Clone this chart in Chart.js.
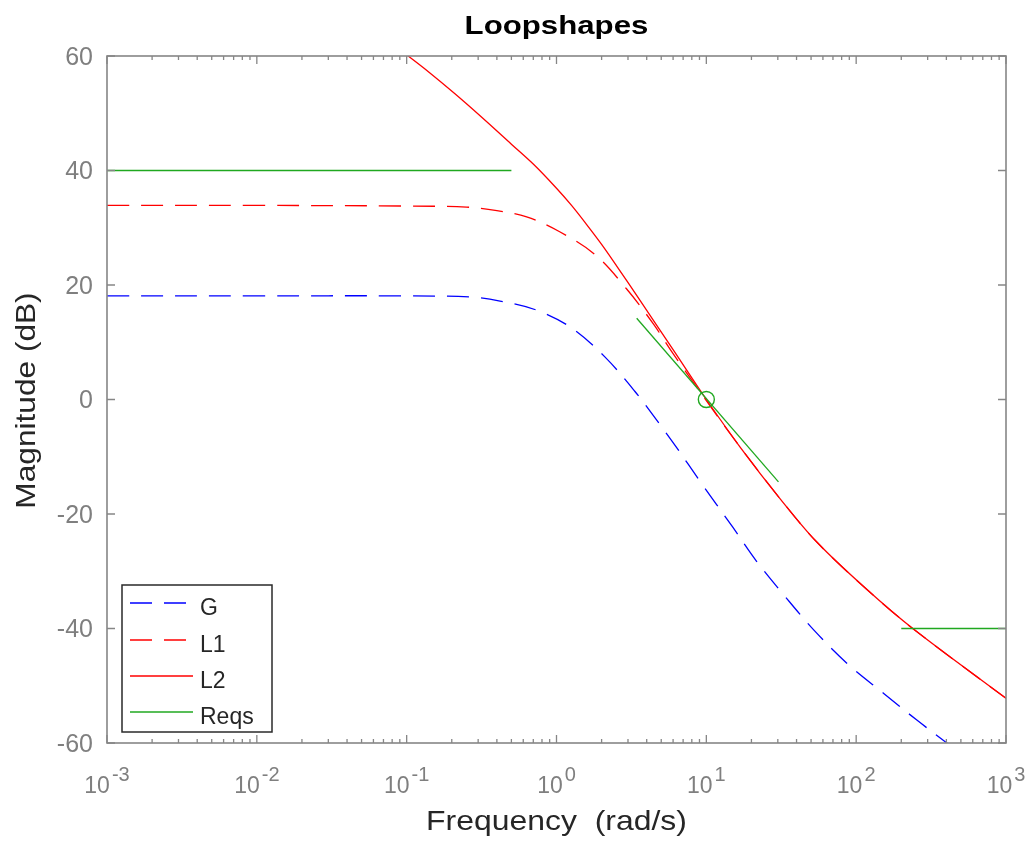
<!DOCTYPE html>
<html>
<head>
<meta charset="utf-8">
<title>Loopshapes</title>
<script src="https://cdn.jsdelivr.net/npm/chart.js@4.4.1/dist/chart.umd.min.js"></script>
<style>
  html, body { margin: 0; padding: 0; background: #fff; }
  #wrap { width: 1034px; height: 842px; position: relative; }
</style>
</head>
<body>
<div id="wrap"><canvas id="loopChart"></canvas></div>
<script>
// plant G
const gFreq = [0.001, 0.01, 0.09, 0.265, 0.42, 0.738, 1.26, 2.11, 3.34, 4.91, 6.34, 9.08, 15.1, 21.7, 33.5, 53.2, 88.7, 152, 254, 403, 1000];
const gMag  = [18.1, 18.1, 18.1, 17.9, 17.2, 15.6, 12.5, 7.4, 1.4, -4.4, -8.4, -14.3, -22.4, -28.3, -34.4, -40.5, -46.3, -51.3, -56.0, -60.0, -68];

// first loop shape L1
const l1Freq = [0.001, 0.01, 0.09, 0.251, 0.40, 0.632, 1.05, 1.81, 2.94, 4.43, 6.0, 10, 16.8, 31, 54.6, 118, 241, 1000];
const l1Mag  = [33.9, 33.9, 33.8, 33.6, 33.0, 31.9, 29.3, 25.3, 19.3, 13.2, 8.0, -0.2, -8.3, -17.3, -24.9, -33.2, -40.1, -52.2];

// second loop shape L2
const l2Freq = [0.07, 0.1, 0.139, 0.21, 0.317, 0.5, 0.708, 1, 1.26, 1.585, 2.0, 2.51, 3.61, 6.0, 10, 16.8, 31, 54.6, 118, 241, 1000];
const l2Mag  = [63.2, 60.2, 57.3, 53.4, 49.3, 44.6, 41.0, 36.9, 33.9, 30.6, 27.1, 23.4, 17.3, 8.7, 0, -8.3, -17.3, -24.9, -33.2, -40.1, -52.2];

// requirements: low freq bound, crossover slope, high freq bound
const reqLowFreq  = [0.001, 0.5];
const reqLowMag   = [40, 40];
const reqMidFreq  = [3.43, 30.3];
const reqMidMag   = [14.2, -14.4];
const reqHighFreq = [200, 1000];
const reqHighMag  = [-40, -40];
const crossFreq = [10];
const crossMag  = [0];

const seriesNames = ['G', 'L1', 'L2', 'Reqs'];
const yTicks = [-60, -40, -20, 0, 20, 40, 60];
const xDecades = [-3, -2, -1, 0, 1, 2, 3];

const BLUE = '#0000ff';
const RED = '#ff0000';
const GREEN = '#20a820';
const DASH = [22, 12];
const FONT = '"Liberation Sans", Arial, sans-serif';

function toPoints(xs, ys) {
  return xs.map((x, i) => ({ x: x, y: ys[i] }));
}

function stretchedText(ctx, text, x, y, sx) {
  ctx.save();
  ctx.translate(x, y);
  ctx.scale(sx, 1);
  ctx.fillText(text, 0, 0);
  ctx.restore();
}

// axes box, inward ticks, labels and legend drawn over the plot
const matlabAxes = {
  id: 'matlabAxes',
  afterDraw(chart) {
    const ctx = chart.ctx;
    const area = chart.chartArea;
    const xs = chart.scales.x;
    const ys = chart.scales.y;
    const L = area.left, R = area.right, T = area.top, B = area.bottom;

    ctx.save();
    ctx.strokeStyle = '#868686';
    ctx.lineWidth = 1.6;
    ctx.strokeRect(L, T, R - L, B - T);

    // x ticks: decades plus 2..9 minors
    ctx.lineWidth = 1.3;
    ctx.beginPath();
    xDecades.forEach(d => {
      for (let m = 1; m <= 9; m++) {
        const v = m * Math.pow(10, d);
        if (v > 1000) break;
        const px = xs.getPixelForValue(v);
        const len = m === 1 ? 8 : 4;
        ctx.moveTo(px, B); ctx.lineTo(px, B - len);
        ctx.moveTo(px, T); ctx.lineTo(px, T + len);
      }
    });
    yTicks.forEach(v => {
      const py = ys.getPixelForValue(v);
      ctx.moveTo(L, py); ctx.lineTo(L + 8, py);
      ctx.moveTo(R, py); ctx.lineTo(R - 8, py);
    });
    ctx.stroke();

    // tick labels
    ctx.fillStyle = '#7f7f7f';
    ctx.font = '25px ' + FONT;
    ctx.textAlign = 'right';
    ctx.textBaseline = 'middle';
    yTicks.forEach(v => {
      ctx.fillText(String(v), 93, ys.getPixelForValue(v) + 2);
    });

    ctx.textAlign = 'left';
    ctx.textBaseline = 'alphabetic';
    xDecades.forEach(d => {
      const px = xs.getPixelForValue(Math.pow(10, d));
      const base = '10';
      const exp = d < 0 ? '-' + Math.abs(d) : String(d);
      ctx.font = '23px ' + FONT;
      const wb = ctx.measureText(base).width;
      ctx.font = '20px ' + FONT;
      const we = ctx.measureText(exp).width;
      const start = px - (wb + 2 + we) / 2;
      ctx.font = '23px ' + FONT;
      ctx.fillText(base, start, 793);
      ctx.font = '20px ' + FONT;
      ctx.fillText(exp, start + wb + 2, 781);
    });

    // titles
    ctx.textAlign = 'center';
    ctx.fillStyle = '#000';
    ctx.font = 'bold 26px ' + FONT;
    stretchedText(ctx, 'Loopshapes', (L + R) / 2, 34, 1.2);

    ctx.fillStyle = '#262626';
    ctx.font = '28px ' + FONT;
    stretchedText(ctx, 'Frequency  (rad/s)', (L + R) / 2, 830, 1.14);

    ctx.save();
    ctx.translate(35, (T + B) / 2 + 1);
    ctx.rotate(-Math.PI / 2);
    stretchedText(ctx, 'Magnitude (dB)', 0, 0, 1.13);
    ctx.restore();

    // legend
    const lx = 122, ly = 585, lw = 150, lh = 147;
    ctx.fillStyle = '#fff';
    ctx.fillRect(lx, ly, lw, lh);
    ctx.strokeStyle = '#2a2a2a';
    ctx.lineWidth = 1.5;
    ctx.strokeRect(lx, ly, lw, lh);

    const styles = [
      { color: BLUE, dash: DASH, end: 186 },
      { color: RED, dash: DASH, end: 186 },
      { color: RED, dash: [], end: 193 },
      { color: GREEN, dash: [], end: 193 }
    ];
    const rows = [603, 640, 676, 712];
    ctx.font = '23px ' + FONT;
    ctx.textAlign = 'left';
    seriesNames.forEach((name, i) => {
      const s = styles[i];
      ctx.strokeStyle = s.color;
      ctx.lineWidth = 1.6;
      ctx.setLineDash(s.dash);
      ctx.beginPath();
      ctx.moveTo(130, rows[i]);
      ctx.lineTo(s.end, rows[i]);
      ctx.stroke();
      ctx.setLineDash([]);
      ctx.fillStyle = '#262626';
      ctx.fillText(name, 200, rows[i] + 12);
    });
    ctx.restore();
  }
};

document.addEventListener('DOMContentLoaded', function() {
  const canvas = document.getElementById('loopChart');

  const curveStyle = {
    showLine: true,
    pointRadius: 0,
    borderWidth: 1.3,
    fill: false,
    tension: 0.35
  };
  const segStyle = {
    showLine: true,
    pointRadius: 0,
    borderWidth: 1.3,
    fill: false,
    tension: 0
  };

  new Chart(canvas, {
    type: 'scatter',
    data: {
      datasets: [
        Object.assign({ label: 'G', data: toPoints(gFreq, gMag), borderColor: BLUE, borderDash: DASH, order: 6 }, curveStyle),
        Object.assign({ label: 'L1', data: toPoints(l1Freq, l1Mag), borderColor: RED, borderDash: DASH, order: 5 }, curveStyle),
        Object.assign({ label: 'L2', data: toPoints(l2Freq, l2Mag), borderColor: RED, order: 4 }, curveStyle),
        Object.assign({ label: 'Reqs', data: toPoints(reqLowFreq, reqLowMag), borderColor: GREEN, order: 3 }, segStyle),
        Object.assign({ label: 'Reqs', data: toPoints(reqMidFreq, reqMidMag), borderColor: GREEN, order: 2 }, segStyle),
        Object.assign({ label: 'Reqs', data: toPoints(reqHighFreq, reqHighMag), borderColor: GREEN, order: 1 }, segStyle),
        {
          label: 'crossover',
          data: toPoints(crossFreq, crossMag),
          showLine: false,
          pointStyle: 'circle',
          pointRadius: 8,
          borderWidth: 1.4,
          borderColor: GREEN,
          backgroundColor: 'rgba(0,0,0,0)',
          order: 0
        }
      ]
    },
    options: {
      responsive: true,
      maintainAspectRatio: false,
      animation: false,
      devicePixelRatio: 1,
      layout: {
        padding: { left: 107, top: 56, right: 28, bottom: 99 }
      },
      plugins: {
        legend: { display: false },
        tooltip: { enabled: false }
      },
      scales: {
        x: {
          type: 'logarithmic',
          min: 0.001,
          max: 1000,
          display: false
        },
        y: {
          type: 'linear',
          min: -60,
          max: 60,
          display: false
        }
      }
    },
    plugins: [matlabAxes]
  });
});
</script>
</body>
</html>
